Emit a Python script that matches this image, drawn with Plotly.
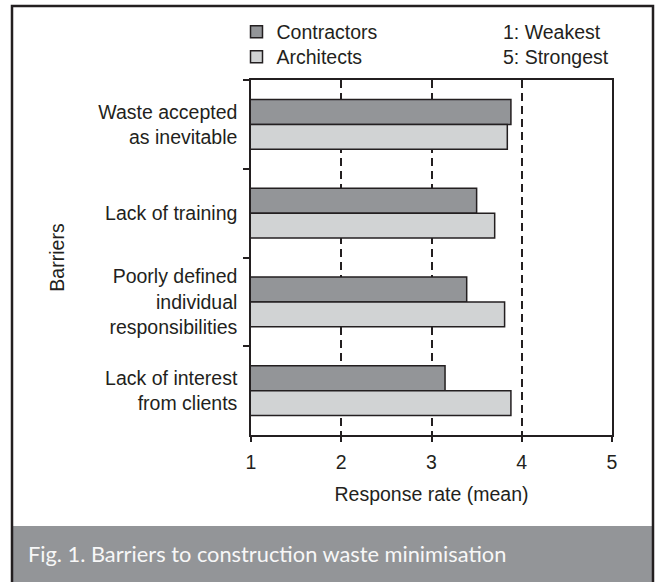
import plotly.graph_objects as go

categories = ["Waste accepted<br>as inevitable", "Lack of training",
              "Poorly defined<br>individual<br>responsibilities",
              "Lack of interest<br>from clients"]
contractors = [3.88, 3.50, 3.39, 3.15]
architects = [3.84, 3.70, 3.81, 3.88]
x_ticks = [1, 2, 3, 4, 5]

W, H = 657, 582
L, R, T, B = 251, 612, 80, 435
FONT = "Liberation Sans, Arial, sans-serif"
FS = 19.5
INK = "#231f20"


def px(x):
    return (x - L) / (R - L)


def py(y):
    return (B - y) / (B - T)


fig = go.Figure()
fig.add_trace(go.Bar(y=categories, x=contractors, orientation="h", name="Contractors",
                     legend="legend",
                     marker=dict(color="#939598", line=dict(color=INK, width=1.5))))
fig.add_trace(go.Bar(y=categories, x=architects, orientation="h", name="Architects",
                     legend="legend2",
                     marker=dict(color="#d1d3d4", line=dict(color=INK, width=1.5))))

shapes = [
    dict(type="rect", xref="paper", yref="paper", x0=px(13), x1=px(652), y0=py(526), y1=py(583),
         fillcolor="#939598", line=dict(width=0), layer="below"),
    dict(type="path", xref="paper", yref="paper",
         path=f"M {px(12)} {py(583)} L {px(12)} {py(6)} L {px(653)} {py(6)} L {px(653)} {py(583)}",
         line=dict(color=INK, width=2.5), layer="below"),
]

annotations = [
    dict(text="1: Weakest", x=px(501), y=py(32), xref="paper", yref="paper", xanchor="left",
         yanchor="middle", showarrow=False, font=dict(size=FS, color=INK, family=FONT)),
    dict(text="5: Strongest", x=px(501), y=py(57), xref="paper", yref="paper", xanchor="left",
         yanchor="middle", showarrow=False, font=dict(size=FS, color=INK, family=FONT)),
    dict(text="Fig. 1. Barriers to construction waste minimisation", x=px(26), y=py(553),
         xref="paper", yref="paper", xanchor="left", yanchor="middle", showarrow=False,
         font=dict(size=21.8, color="#f7f7f7", family="Lato, Open Sans, sans-serif")),
]

leg_common = dict(xanchor="left", yanchor="middle", bgcolor="rgba(0,0,0,0)",
                  font=dict(size=FS, family=FONT, color=INK),
                  itemclick=False, itemdoubleclick=False)

fig.update_layout(
    width=W, height=H,
    margin=dict(l=L, r=W - R, t=T, b=H - B, pad=0),
    paper_bgcolor="white", plot_bgcolor="white",
    barmode="group", bargap=0.44, bargroupgap=0,
    font=dict(family=FONT, size=FS, color=INK),
    showlegend=True,
    legend=dict(x=px(236.5), y=py(32), **leg_common),
    legend2=dict(x=px(236.5), y=py(57), **leg_common),
    shapes=shapes, annotations=annotations,
)

fig.update_xaxes(range=[1, 5], tickvals=x_ticks, ticktext=[str(v) for v in x_ticks],
                 showline=True, linecolor=INK, linewidth=1.5, mirror=True,
                 ticks="outside", ticklen=5, tickcolor=INK, tickwidth=1.5,
                 showgrid=True, gridcolor=INK, gridwidth=1.5, griddash="8px,5px",
                 zeroline=False, ticklabelstandoff=4,
                 title=dict(text="Response rate (mean)", standoff=15,
                            font=dict(size=FS, family=FONT, color=INK)))
fig.update_yaxes(autorange="reversed", showline=True, linecolor=INK, linewidth=1.5, mirror=True,
                 ticks="outside", ticklen=6, tickcolor=INK, tickwidth=1.5, tickson="boundaries",
                 showgrid=False, zeroline=False, ticklabelstandoff=8,
                 title=dict(text="Barriers", standoff=28,
                            font=dict(size=FS, family=FONT, color=INK)))

fig.write_html("out.html", config={"displayModeBar": False},
               post_script="document.documentElement.style.margin='0';"
                           "document.body.style.margin='0';"
                           "document.body.style.overflow='hidden';")
